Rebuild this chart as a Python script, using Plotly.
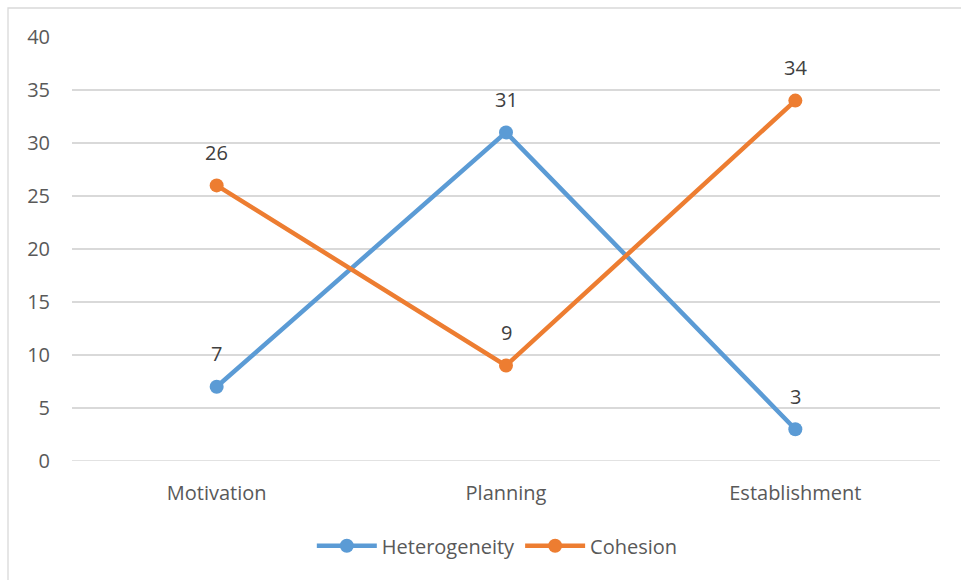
import plotly.graph_objects as go

categories = ["Motivation", "Planning", "Establishment"]
heterogeneity = [7, 31, 3]
cohesion = [26, 9, 34]
y_ticks = [0, 5, 10, 15, 20, 25, 30, 35, 40]

BLUE = "#5B9BD5"
ORANGE = "#ED7D31"
TXT = "#595959"
FONT = "Open Sans"
FS = 20

fig = go.Figure()
for name, vals, col in [("Heterogeneity", heterogeneity, BLUE), ("Cohesion", cohesion, ORANGE)]:
    fig.add_trace(go.Scatter(
        x=categories, y=vals, name=name, mode="lines+markers",
        line=dict(color=col, width=4.5), marker=dict(color=col, size=14),
    ))
    for c, v in zip(categories, vals):
        fig.add_annotation(x=c, y=v, text=str(v), showarrow=False, yshift=33,
                           font=dict(family=FONT, size=FS, color="#404040"))

fig.update_layout(
    width=961, height=580,
    margin=dict(l=72, r=21, t=37, b=119),
    paper_bgcolor="white", plot_bgcolor="white",
    font=dict(family=FONT, size=FS, color=TXT),
    showlegend=True,
    legend=dict(orientation="h", x=0.49, xanchor="center", y=-0.2, yanchor="middle",
                font=dict(family=FONT, size=FS, color=TXT), itemwidth=60,
                traceorder="normal"),
    xaxis=dict(type="category", range=[-0.5, 2.5], showgrid=False, zeroline=False,
               showline=False, ticks="", tickfont=dict(size=FS, color=TXT), ticklabelstandoff=18),
    yaxis=dict(range=[0, 40], tickvals=y_ticks, showgrid=True, gridcolor="#D9D9D9",
               gridwidth=1.5, zeroline=False, showline=False, ticks="",
               tickfont=dict(size=FS, color=TXT), ticklabelstandoff=21),
    shapes=[dict(type="rect", xref="paper", yref="paper",
                 x0=(8 - 72) / 868, x1=(965 - 72) / 868,
                 y0=(461 - 585) / 424, y1=(461 - 8) / 424,
                 line=dict(color="#D9D9D9", width=1.3), layer="below")],
)
fig.add_shape(type="line", xref="paper", yref="y", x0=0, x1=1, y0=0, y1=0,
              line=dict(color="#D9D9D9", width=1.5), layer="below")

fig.write_html("out.html")
